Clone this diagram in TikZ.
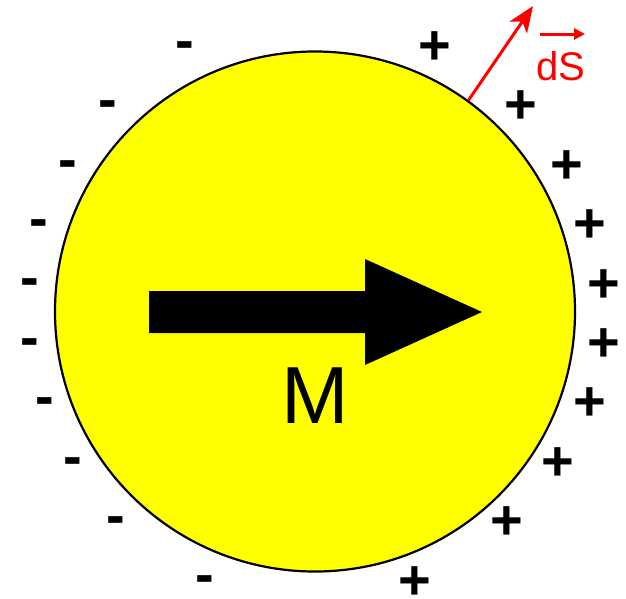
\documentclass[tikz,border=0pt]{standalone}
\usepackage{fontspec}
\setmainfont{Liberation Sans}
\usetikzlibrary{arrows.meta}
\definecolor{ballyellow}{RGB}{255,255,0}
\begin{document}
\begin{tikzpicture}[x=1pt,y=-1pt,
  sign/.style={inner sep=0pt, font=\fontsize{56}{56}\selectfont\bfseries},
  plussign/.style={sign, text height=33pt, text depth=-6.5pt},
  minussign/.style={sign, text height=24pt, text depth=-17pt},
  redvec/.style={draw=red, line width=3pt}]
\useasboundingbox (0,0) rectangle (626,598);
\node[draw, line width=2.2pt, fill=ballyellow, circle, minimum size=520pt, inner sep=0pt] (ball) at (315,311.5) {};
% magnetisation arrow
\fill[black] (149,291) -- (365,291) -- (365,259) -- (482,312) -- (365,365) -- (365,333) -- (149,333) -- cycle;
\node[inner sep=0pt, font=\fontsize{81}{81}\selectfont] (M) at (315,396) {M};
% surface element
\coordinate (dstip) at (533,6);
\draw[redvec, -{Stealth[length=26pt,width=21pt,inset=7pt]}] (ball.54.6) -- (dstip);
\node[anchor=base west, inner sep=0pt, text=red, font=\fontsize{40}{40}\selectfont] (dS) at (536,80) {dS};
\coordinate (ovl) at (540,34);
\coordinate (ovr) at (585,34);
\draw[redvec, -{Triangle[length=11pt,width=11pt]}] (ovl) -- (ovr);
% minus charges
\foreach \p [count=\i] in {(185,47),(108,106),(68,166),(39,225),(30,284),(30,344),(45,403),(73,463),(116,522),(205,581)}
  \node[minussign] (m\i) at \p {-};
% plus charges
\foreach \p [count=\i] in {(435,48),(521,107),(567,167),(590,226),(604,286),(604,345),(590,404),(558,464),(507,523),(415,583)}
  \node[plussign] (p\i) at \p {+};
\end{tikzpicture}
\end{document}
